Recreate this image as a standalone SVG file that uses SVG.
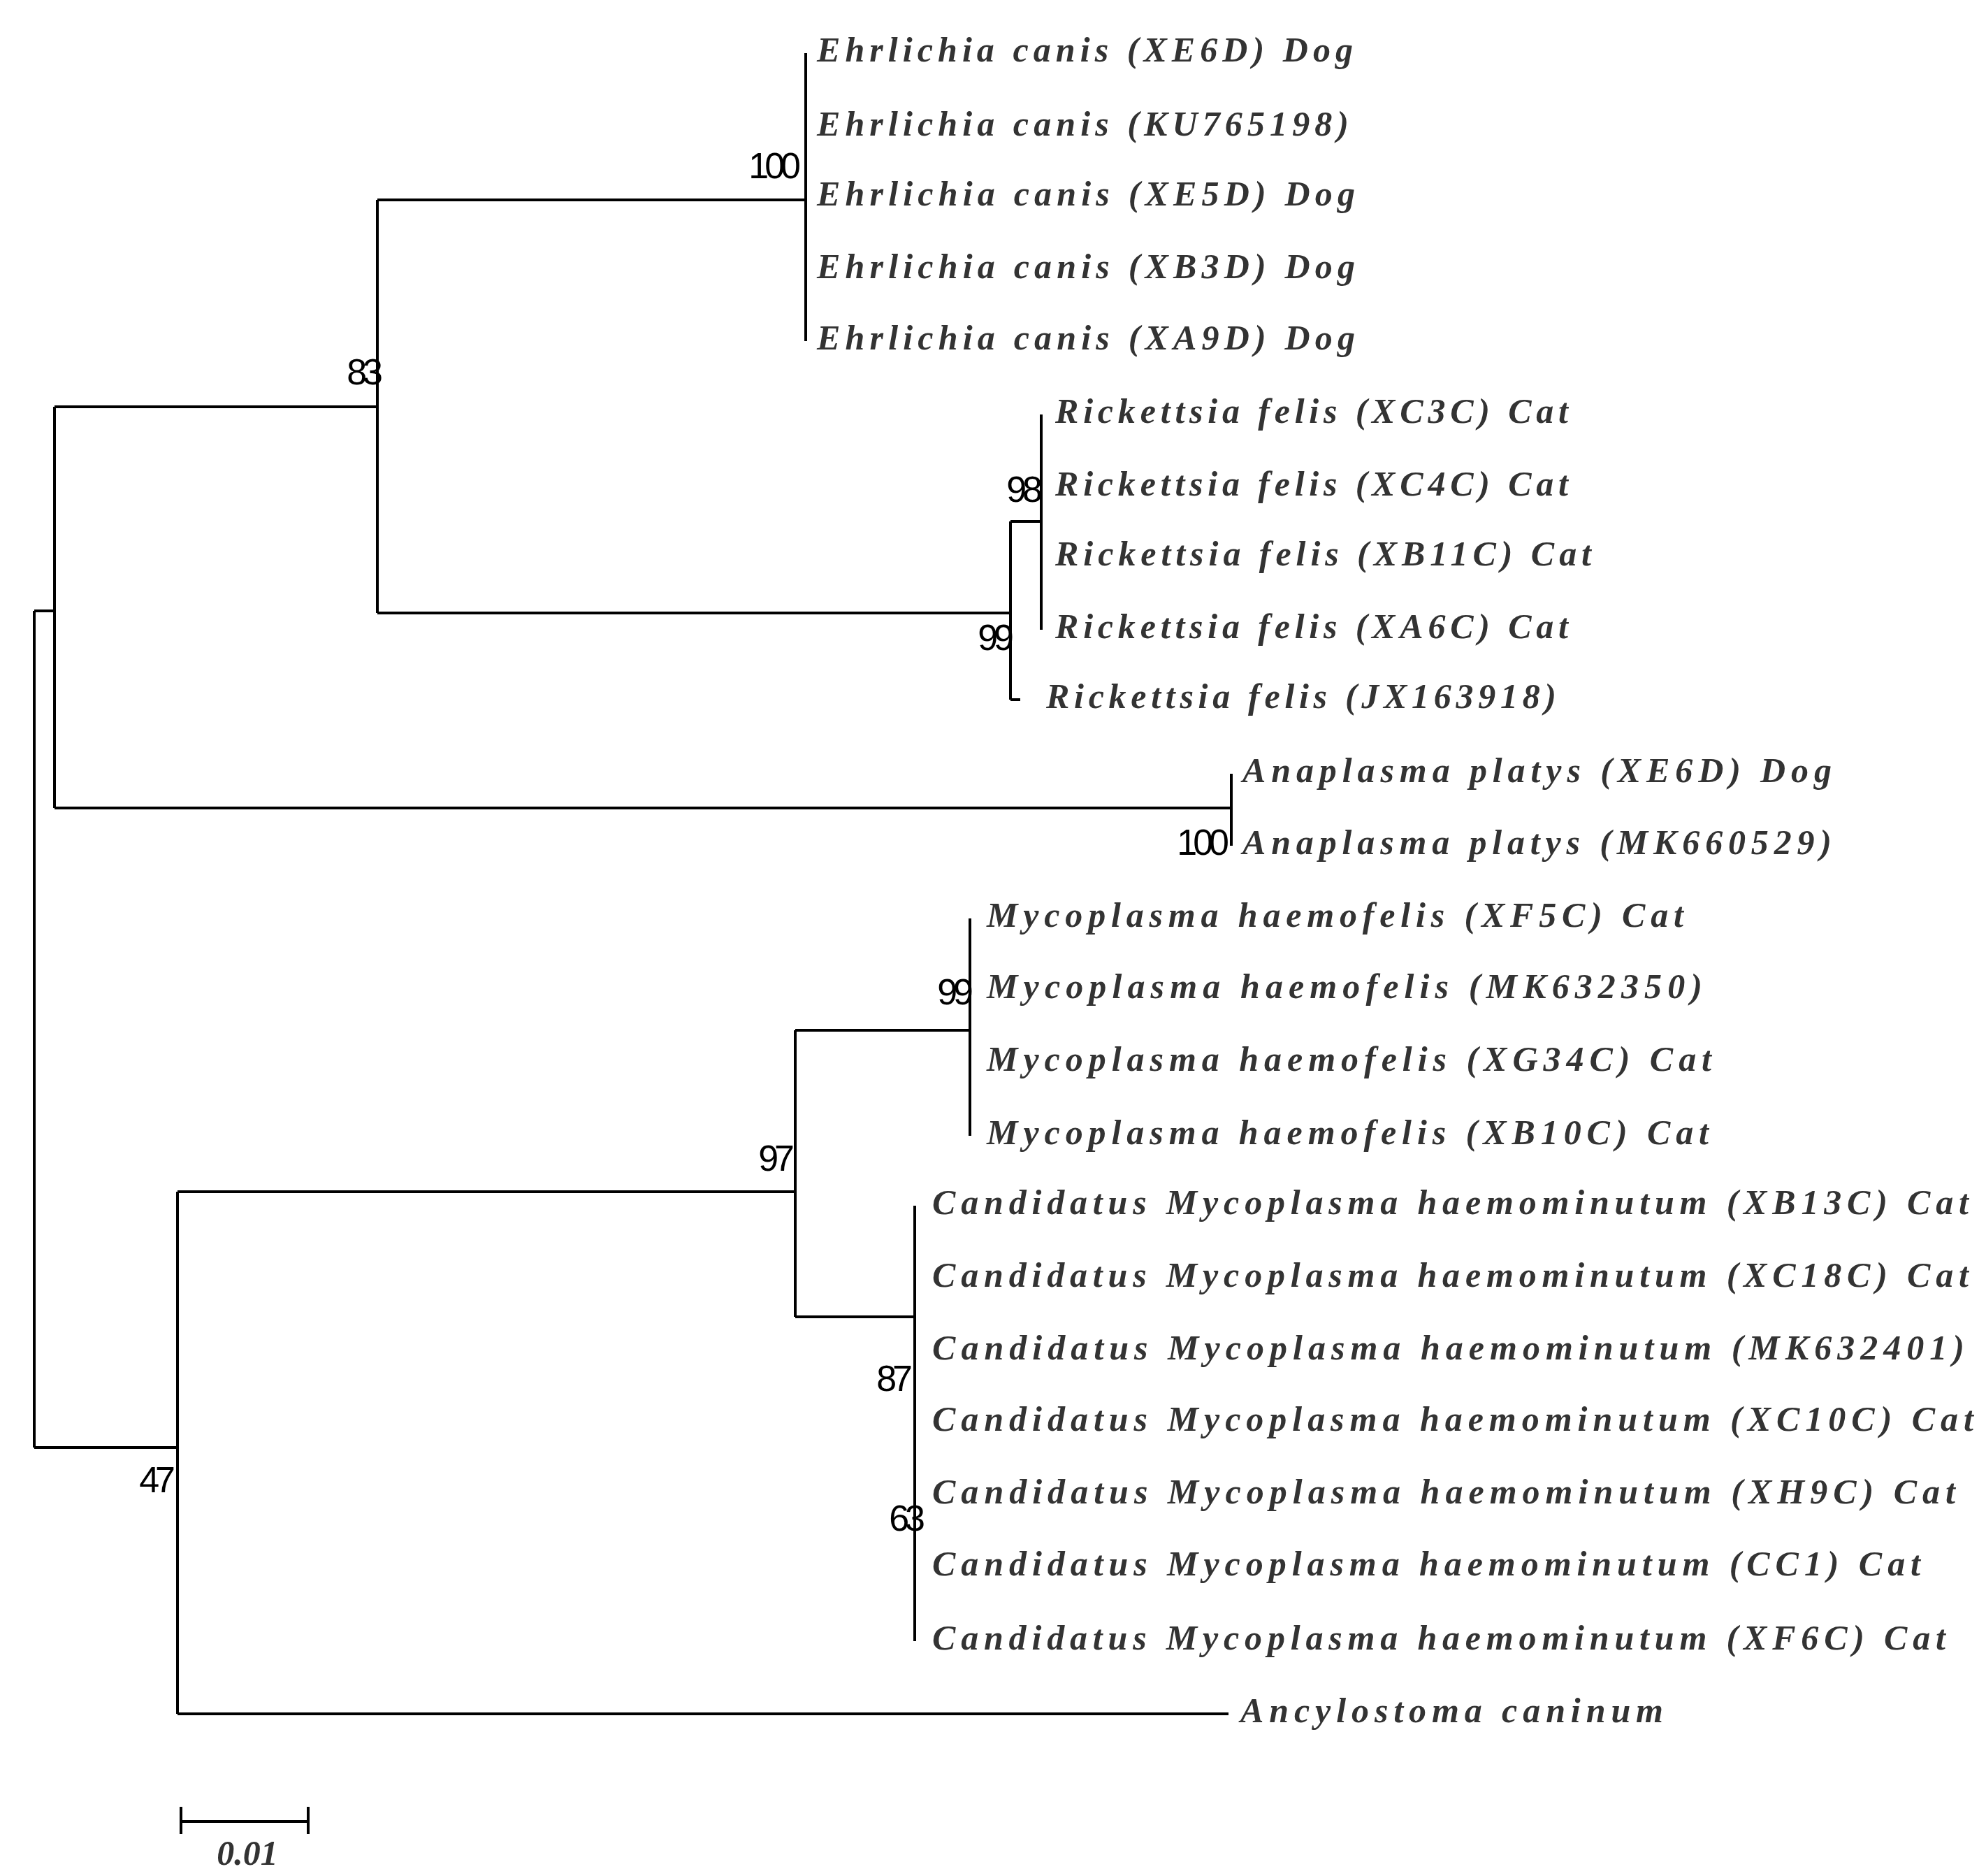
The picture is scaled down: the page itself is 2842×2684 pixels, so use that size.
<svg xmlns="http://www.w3.org/2000/svg" width="2842" height="2684" viewBox="0 0 2842 2684">
<style>
.e{stroke:#000;stroke-width:4;fill:none}
.t{font-family:"Liberation Serif",serif;font-style:italic;font-weight:bold;font-size:50px;fill:#333}
.b{font-family:"Liberation Sans",sans-serif;font-size:52px;fill:#000;text-anchor:end;letter-spacing:-6px}
</style>
<rect width="2842" height="2684" fill="#fff"/>
<g id="edges">
<path class="e" d="M49 874V2071M49 874H78M78 582V1156M78 582H540M78 1156H1762M540 286V877M540 286H1153M540 877H1446M1153 76V488M1446 746V1001M1446 746H1490M1446 1001H1460M1490 593V901M1762 1107V1210M49 2071H254M254 1705V2452M254 1705H1138M254 2452H1758M1138 1474V1884M1138 1474H1388M1138 1884H1309M1388 1314V1625M1309 1725V2348"/>
</g>
<g id="leaves">
<text class="t" x="1169" y="88" textLength="767">Ehrlichia canis (XE6D) Dog</text>
<text class="t" x="1169" y="194" textLength="761">Ehrlichia canis (KU765198)</text>
<text class="t" x="1169" y="294" textLength="770">Ehrlichia canis (XE5D) Dog</text>
<text class="t" x="1169" y="398" textLength="770">Ehrlichia canis (XB3D) Dog</text>
<text class="t" x="1169" y="500" textLength="770">Ehrlichia canis (XA9D) Dog</text>
<text class="t" x="1510" y="605" textLength="734">Rickettsia felis (XC3C) Cat</text>
<text class="t" x="1510" y="709" textLength="734">Rickettsia felis (XC4C) Cat</text>
<text class="t" x="1510" y="809" textLength="767">Rickettsia felis (XB11C) Cat</text>
<text class="t" x="1510" y="913" textLength="734">Rickettsia felis (XA6C) Cat</text>
<text class="t" x="1497" y="1013" textLength="730">Rickettsia felis (JX163918)</text>
<text class="t" x="1778" y="1119" textLength="843">Anaplasma platys (XE6D) Dog</text>
<text class="t" x="1778" y="1222" textLength="843">Anaplasma platys (MK660529)</text>
<text class="t" x="1412" y="1326" textLength="997">Mycoplasma haemofelis (XF5C) Cat</text>
<text class="t" x="1412" y="1428" textLength="1024">Mycoplasma haemofelis (MK632350)</text>
<text class="t" x="1412" y="1532" textLength="1037">Mycoplasma haemofelis (XG34C) Cat</text>
<text class="t" x="1412" y="1637" textLength="1033">Mycoplasma haemofelis (XB10C) Cat</text>
<text class="t" x="1334" y="1737" textLength="1483">Candidatus Mycoplasma haemominutum (XB13C) Cat</text>
<text class="t" x="1334" y="1841" textLength="1483">Candidatus Mycoplasma haemominutum (XC18C) Cat</text>
<text class="t" x="1334" y="1945" textLength="1477">Candidatus Mycoplasma haemominutum (MK632401)</text>
<text class="t" x="1334" y="2047" textLength="1490">Candidatus Mycoplasma haemominutum (XC10C) Cat</text>
<text class="t" x="1334" y="2151" textLength="1464">Candidatus Mycoplasma haemominutum (XH9C) Cat</text>
<text class="t" x="1334" y="2254" textLength="1414">Candidatus Mycoplasma haemominutum (CC1) Cat</text>
<text class="t" x="1334" y="2360" textLength="1450">Candidatus Mycoplasma haemominutum (XF6C) Cat</text>
<text class="t" x="1775" y="2464" textLength="605">Ancylostoma caninum</text>
</g>
<g id="bootstrap">
<text class="b" x="1140" y="255">100</text>
<text class="b" x="542" y="550">83</text>
<text class="b" x="1486" y="718">98</text>
<text class="b" x="1445" y="930">99</text>
<text class="b" x="1753" y="1223">100</text>
<text class="b" x="1387" y="1437">99</text>
<text class="b" x="1131" y="1675">97</text>
<text class="b" x="1300" y="1990">87</text>
<text class="b" x="1318" y="2190">63</text>
<text class="b" x="245" y="2135">47</text>
</g>
<g id="scalebar">
<path class="e" d="M259 2606H441M259 2585V2624M441 2585V2624"/>
<text class="t" x="354" y="2668" text-anchor="middle">0.01</text>
</g>
</svg>
